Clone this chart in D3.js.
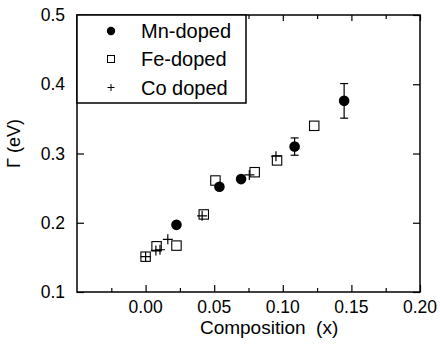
<!DOCTYPE html>
<html>
<head>
<meta charset="utf-8">
<script src="https://cdn.jsdelivr.net/npm/d3@7"></script>
<style>
  body { margin: 0; background: #fff; }
  text { font-family: "Liberation Sans", Arial, sans-serif; fill: #000; }
</style>
</head>
<body>
<div id="chart"></div>
<script>
// Gamma vs composition, three dopant series

var mnX = [0.0225, 0.0538, 0.0696, 0.1086, 0.1447];
var mnY = [0.197, 0.252, 0.263, 0.310, 0.376];
var mnErr = [0, 0, 0, 0.0125, 0.025];

var feX = [0.000, 0.008, 0.0225, 0.0424, 0.0509, 0.0795, 0.0958, 0.1229];
var feY = [0.151, 0.166, 0.167, 0.212, 0.261, 0.273, 0.290, 0.340];

var coX = [0.000, 0.0075, 0.0105, 0.0162, 0.0412, 0.0756, 0.0950];
var coY = [0.151, 0.160, 0.161, 0.176, 0.210, 0.269, 0.296];

var xTicks = [0.00, 0.05, 0.10, 0.15, 0.20];
var xMinor = [-0.025, 0.025, 0.075, 0.125, 0.175];
var yTicks = [0.1, 0.2, 0.3, 0.4, 0.5];
var legendLabels = ["Mn-doped", "Fe-doped", "Co doped"];

var W = 440, H = 347;
var margin = { top: 15, right: 20, bottom: 55, left: 77 },
    width = W - margin.left - margin.right,
    height = H - margin.top - margin.bottom;

var svg = d3.select("#chart").append("svg")
    .attr("width", W)
    .attr("height", H)
    .append("g")
    .attr("transform", "translate(" + margin.left + "," + margin.top + ")");

var x = d3.scaleLinear().domain([-0.05, 0.20]).range([0, width]);
var y = d3.scaleLinear().domain([0.1, 0.5]).range([height, 0]);

// axes with inward ticks
function tickAxis(axis, vals, size) {
    return axis.tickValues(vals).tickSizeInner(-size).tickSizeOuter(0).tickFormat("");
}

svg.append("g").attr("transform", "translate(0," + height + ")")
    .call(tickAxis(d3.axisBottom(x), xTicks, 7));
svg.append("g").attr("transform", "translate(0," + height + ")")
    .call(tickAxis(d3.axisBottom(x), xMinor, 4));
svg.append("g")
    .call(tickAxis(d3.axisTop(x), xTicks, 6));
svg.append("g")
    .call(tickAxis(d3.axisTop(x), xMinor, 4));
svg.append("g")
    .call(tickAxis(d3.axisLeft(y), yTicks, 7));
svg.append("g").attr("transform", "translate(" + width + ",0)")
    .call(tickAxis(d3.axisRight(y), yTicks, 7));

svg.selectAll(".domain").remove();
svg.selectAll(".tick line").attr("stroke", "#000").attr("stroke-width", 1.2);

// tick labels
svg.selectAll(".xlab")
    .data(xTicks)
    .enter().append("text")
    .attr("x", d => x(d))
    .attr("y", height + 21)
    .attr("text-anchor", "middle")
    .style("font-size", "17.5px")
    .text(d => d.toFixed(2));

svg.selectAll(".ylab")
    .data(yTicks)
    .enter().append("text")
    .attr("x", -12)
    .attr("y", d => y(d) + 6)
    .attr("text-anchor", "end")
    .style("font-size", "17.5px")
    .text(d => d.toFixed(1));

// frame
svg.append("rect")
    .attr("width", width)
    .attr("height", height)
    .attr("fill", "none")
    .attr("stroke", "#000")
    .attr("stroke-width", 1.5);

// axis titles
svg.append("text")
    .attr("x", x(0.09))
    .attr("y", height + 42)
    .attr("text-anchor", "middle")
    .attr("xml:space", "preserve")
    .style("white-space", "pre")
    .style("font-size", "19px")
    .text("Composition  (x)");

svg.append("text")
    .attr("transform", "translate(" + (-57) + "," + (y(0.3) - 10) + ") rotate(-90)")
    .attr("text-anchor", "middle")
    .style("font-size", "18px")
    .text("\u0393 (eV)");

// Mn error bars
var mn = mnX.map((d, i) => ({ x: d, y: mnY[i], e: mnErr[i] }));
var eb = svg.append("g").attr("stroke", "#000").attr("stroke-width", 1.2);
mn.filter(d => d.e > 0).forEach(function(d) {
    eb.append("line").attr("x1", x(d.x)).attr("x2", x(d.x))
        .attr("y1", y(d.y - d.e)).attr("y2", y(d.y + d.e));
    [d.y - d.e, d.y + d.e].forEach(function(v) {
        eb.append("line").attr("x1", x(d.x) - 4).attr("x2", x(d.x) + 4)
            .attr("y1", y(v)).attr("y2", y(v));
    });
});

// Fe squares
svg.selectAll(".fe")
    .data(feX.map((d, i) => ({ x: d, y: feY[i] })))
    .enter().append("rect")
    .attr("x", d => x(d.x) - 4.7)
    .attr("y", d => y(d.y) - 4.7)
    .attr("width", 9.4)
    .attr("height", 9.4)
    .attr("fill", "#fff")
    .attr("stroke", "#000")
    .attr("stroke-width", 1.1);

// Co pluses
svg.selectAll(".co")
    .data(coX.map((d, i) => ({ x: d, y: coY[i] })))
    .enter().append("path")
    .attr("transform", d => "translate(" + x(d.x) + "," + y(d.y) + ")")
    .attr("d", "M-5,0H5M0,-5V5")
    .attr("stroke", "#000")
    .attr("stroke-width", 1.2);

// Mn circles
svg.selectAll(".mn")
    .data(mn)
    .enter().append("circle")
    .attr("cx", d => x(d.x))
    .attr("cy", d => y(d.y))
    .attr("r", 5.3)
    .attr("fill", "#000");

// legend
var leg = svg.append("g");
leg.append("rect")
    .attr("x", 0).attr("y", 0)
    .attr("width", 169).attr("height", 88)
    .attr("fill", "#fff")
    .attr("stroke", "#000")
    .attr("stroke-width", 1.5);

var rowY = [16, 44, 72.5];
leg.append("circle").attr("cx", 34).attr("cy", rowY[0]).attr("r", 4.2).attr("fill", "#000");
leg.append("rect").attr("x", 30.5).attr("y", rowY[1] - 3.5).attr("width", 7).attr("height", 7)
    .attr("fill", "none").attr("stroke", "#000").attr("stroke-width", 1);
leg.append("path").attr("transform", "translate(34," + rowY[2] + ")")
    .attr("d", "M-3.5,0H3.5M0,-3.5V3.5").attr("stroke", "#000").attr("stroke-width", 1);

leg.selectAll(".lt")
    .data(legendLabels)
    .enter().append("text")
    .attr("x", 64)
    .attr("y", (d, i) => rowY[i] + 7)
    .style("font-size", "20px")
    .text(d => d);
</script>
</body>
</html>
